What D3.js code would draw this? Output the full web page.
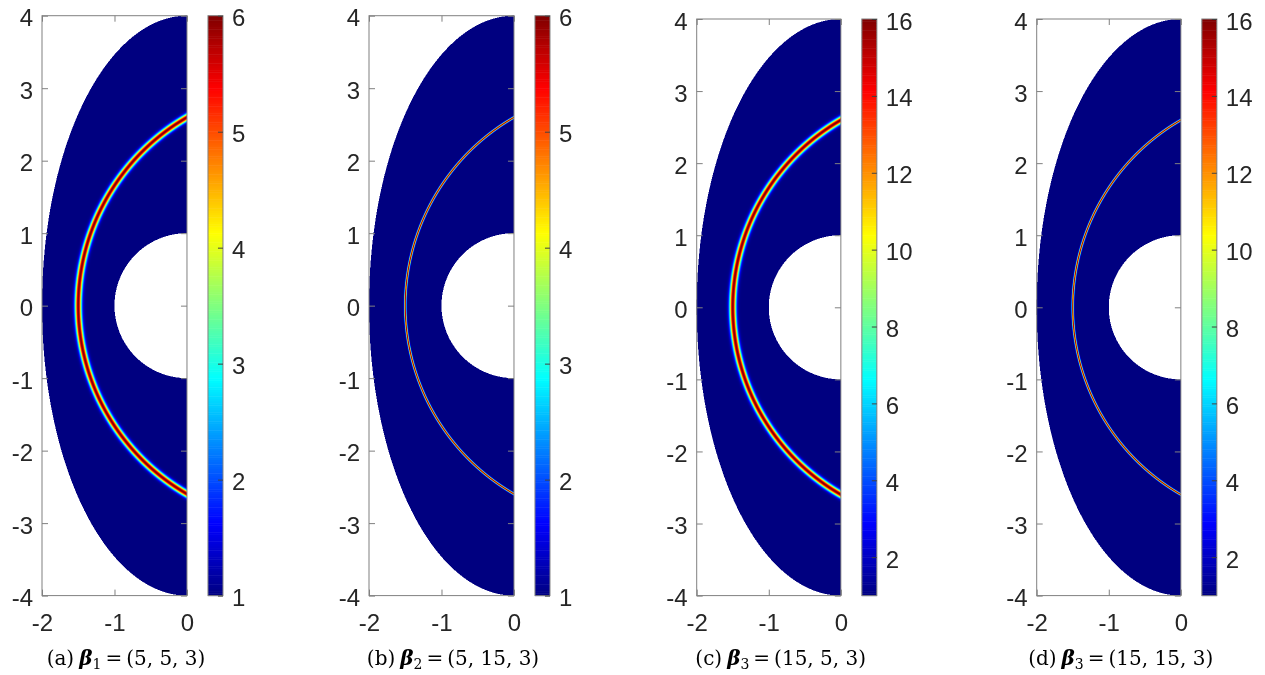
<!DOCTYPE html>
<html>
<head>
<meta charset="utf-8">
<script src="https://cdn.jsdelivr.net/npm/d3@7"></script>
<style>
  body { margin: 0; background: #fff; }
  #wrap { position: relative; width: 1265px; height: 675px; }
  #field, #chart { position: absolute; left: 0; top: 0; }
</style>
</head>
<body>
<div id="wrap">
  <canvas id="field"></canvas>
  <svg id="chart" width="1265" height="675"></svg>
</div>
<script>
'use strict';

// ---- data ----
var captionTags = ["(a)", "(b)", "(c)", "(d)"];
var betaIndex = ["1", "2", "3", "3"];
var betaValues = [[5, 5, 3], [5, 15, 3], [15, 5, 3], [15, 15, 3]];
var peakValues = [6, 6, 16, 16];               // max of the ring
var ringWidths = [0.045, 0.014, 0.045, 0.014]; // gaussian half width of the ring
var colorRanges = [[1, 6], [1, 6], [1, 16], [1, 16]];
var colorTicks = [
  [1, 2, 3, 4, 5, 6],
  [1, 2, 3, 4, 5, 6],
  [2, 4, 6, 8, 10, 12, 14, 16],
  [2, 4, 6, 8, 10, 12, 14, 16]
];
var xTicks = [-2, -1, 0];
var yTicks = [-4, -3, -2, -1, 0, 1, 2, 3, 4];
var outerAxes = [2, 4];     // outer boundary ellipse
var innerRadius = 1;        // cylinder
var ringCenter = [1.5, 0];  // ring is a circle arc
var ringRadius = 3;

// matlab jet
var jetStops = [0, 0.125, 0.375, 0.625, 0.875, 1];
var jetColors = ["#000080", "#0000ff", "#00ffff", "#ffff00", "#ff0000", "#800000"];

// ---- layout ----
var boxLeft = [42, 369, 696.7, 1036.7];
var boxTop = [15.7, 15.7, 19, 19];
var boxBottom = 595.6;
var cbGap = 21, cbWidth = 15;
var fontSize = 24;
var axisGray = "#808080";
var textColor = "#262626";

var S = 2; // supersampling
var canvas = document.getElementById("field");
canvas.width = 1265 * S;
canvas.height = 675 * S;
canvas.style.width = "1265px";
canvas.style.height = "675px";
var ctx = canvas.getContext("2d");
var img = ctx.createImageData(canvas.width, canvas.height);

var svg = d3.select("#chart");

function sq(v) { return v * v; }
function fmt(d) { return (d < 0 ? "-" : "") + Math.abs(d); }

function fieldValue(p, x, y) {
  var d = Math.sqrt(sq(x - ringCenter[0]) + sq(y - ringCenter[1])) - ringRadius;
  return 1 + (peakValues[p] - 1) * Math.exp(-sq(d / ringWidths[p]));
}

function inside(x, y) {
  if (x > 0) return false;
  var e = sq(x / outerAxes[0]) + sq(y / outerAxes[1]);
  return e <= 1 && (x * x + y * y) >= innerRadius * innerRadius;
}

captionTags.forEach(function(tag, p) {
  var k = (boxBottom - boxTop[p]) / 8;
  var x = d3.scaleLinear().domain([-2, 0]).range([boxLeft[p], boxLeft[p] + 2 * k]);
  var y = d3.scaleLinear().domain([-4, 4]).range([boxBottom, boxTop[p]]);
  var cr = colorRanges[p];
  var color = d3.scaleLinear()
    .domain(jetStops.map(function(t) { return cr[0] + t * (cr[1] - cr[0]); }))
    .range(jetColors)
    .clamp(true);

  // field raster
  var px0 = Math.floor(x.range()[0] * S), px1 = Math.ceil(x.range()[1] * S);
  var py0 = Math.floor(boxTop[p] * S), py1 = Math.ceil(boxBottom * S);
  for (var py = py0; py < py1; py++) {
    var yv = y.invert((py + 0.5) / S);
    for (var px = px0; px < px1; px++) {
      var xv = x.invert((px + 0.5) / S);
      if (!inside(xv, yv)) continue;
      var c = d3.rgb(color(fieldValue(p, xv, yv)));
      var i = (py * canvas.width + px) * 4;
      img.data[i] = c.r; img.data[i + 1] = c.g; img.data[i + 2] = c.b; img.data[i + 3] = 255;
    }
  }

  var g = svg.append("g");

  // box
  g.append("rect")
    .attr("x", x(-2)).attr("y", y(4))
    .attr("width", x(0) - x(-2)).attr("height", y(-4) - y(4))
    .attr("fill", "none").attr("stroke", axisGray).attr("stroke-width", 1);

  var left = g.append("g").attr("transform", "translate(" + x(-2) + ",0)")
    .call(d3.axisLeft(y).tickValues(yTicks).tickSize(-6).tickPadding(9).tickFormat(fmt));
  var right = g.append("g").attr("transform", "translate(" + x(0) + ",0)")
    .call(d3.axisRight(y).tickValues(yTicks).tickSize(-6).tickFormat(""));
  var bottom = g.append("g").attr("transform", "translate(0," + y(-4) + ")")
    .call(d3.axisBottom(x).tickValues(xTicks).tickSize(-6).tickPadding(18).tickFormat(fmt));
  var top = g.append("g").attr("transform", "translate(0," + y(4) + ")")
    .call(d3.axisTop(x).tickValues(xTicks).tickSize(-6).tickFormat(""));

  [left, right, bottom, top].forEach(function(a) {
    a.select(".domain").remove();
    a.selectAll("line").attr("stroke", axisGray);
    a.selectAll("text").attr("fill", textColor)
      .style("font-family", "'Liberation Sans', Arial, sans-serif")
      .style("font-size", fontSize + "px");
  });
  left.selectAll("text").attr("dy", "0.42em");

  // colorbar
  var cbx = x(0) + cbGap;
  var cy = d3.scaleLinear().domain(cr).range([boxBottom, boxTop[p]]);
  var steps = d3.range(0, 256);
  var dv = (cr[1] - cr[0]) / 256;
  g.append("g").selectAll("rect").data(steps).join("rect")
    .attr("x", cbx).attr("width", cbWidth)
    .attr("y", function(s) { return cy(cr[0] + (s + 1) * dv); })
    .attr("height", function(s) { return cy(cr[0] + s * dv) - cy(cr[0] + (s + 1) * dv) + 0.5; })
    .attr("fill", function(s) { return color(cr[0] + (s + 0.5) * dv); });
  g.append("rect")
    .attr("x", cbx).attr("y", boxTop[p]).attr("width", cbWidth).attr("height", boxBottom - boxTop[p])
    .attr("fill", "none").attr("stroke", axisGray).attr("stroke-width", 1);
  var cb = g.append("g").attr("transform", "translate(" + (cbx + cbWidth) + ",0)")
    .call(d3.axisRight(cy).tickValues(colorTicks[p]).tickSize(-5).tickPadding(9).tickFormat(fmt));
  cb.select(".domain").remove();
  cb.selectAll("line").attr("stroke", "#404040");
  cb.selectAll("text").attr("fill", textColor).attr("dy", "0.42em")
    .style("font-family", "'Liberation Sans', Arial, sans-serif")
    .style("font-size", fontSize + "px");

  // caption
  var cap = g.append("text")
    .attr("x", boxLeft[p] + 84).attr("y", 665)
    .attr("text-anchor", "middle")
    .style("font-family", "'DejaVu Serif', serif")
    .style("font-size", "20px")
    .attr("fill", "#000");
  cap.append("tspan").text(tag);
  cap.append("tspan").attr("dx", 5).text("\u03B2")
    .style("font-weight", "bold").style("font-style", "italic");
  cap.append("tspan").text(betaIndex[p]).attr("dy", 4).style("font-size", "14px");
  cap.append("tspan").attr("dy", -4).attr("dx", 4).text("=");
  cap.append("tspan").attr("dx", 4).text("(" + betaValues[p].join(", ") + ")");
});

ctx.putImageData(img, 0, 0);
</script>
</body>
</html>
